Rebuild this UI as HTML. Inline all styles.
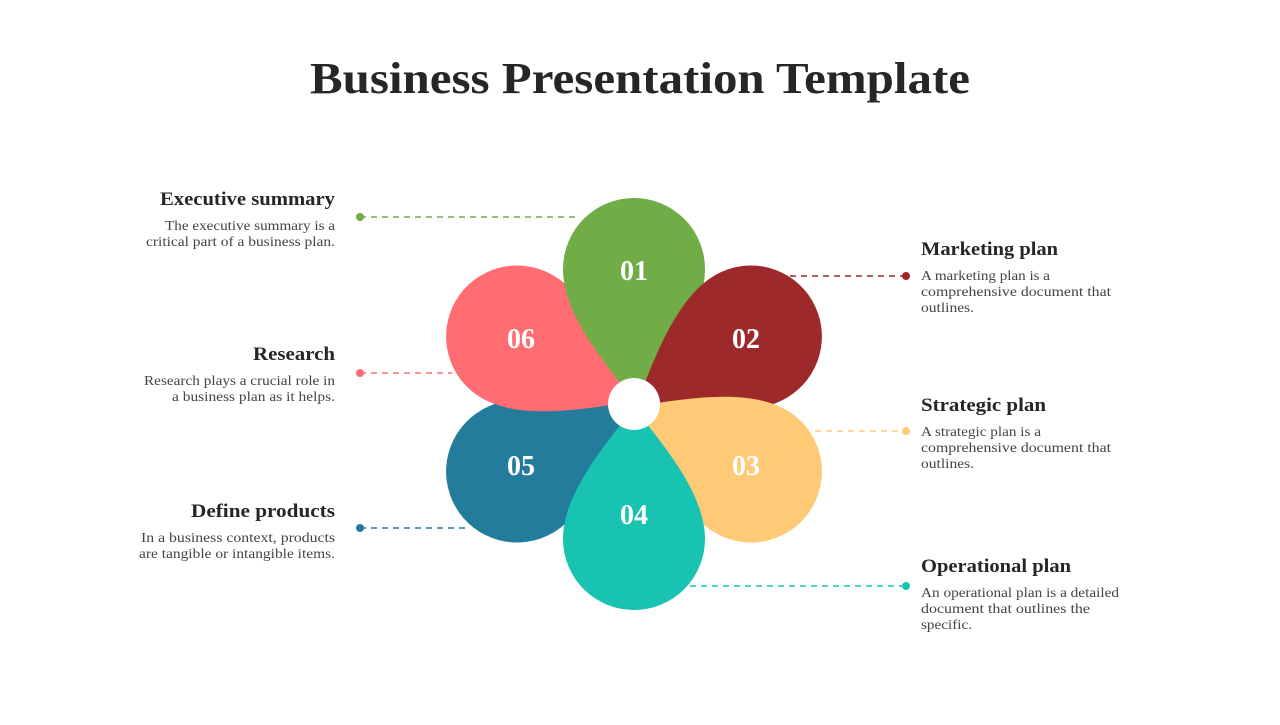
<!DOCTYPE html>
<html><head><meta charset="utf-8"><style>
html,body{margin:0;padding:0;background:#fff;}
body{width:1280px;height:720px;overflow:hidden;}
</style></head><body>
<svg width="1280" height="720" viewBox="0 0 1280 720" xmlns="http://www.w3.org/2000/svg" font-family="'Liberation Serif', serif">
<defs>
<path id="p" d="M0,-4 C34,-46 71,-92 71,-135 A71,71 0 1 0 -71,-135 C-71,-92 -34,-46 0,-4 Z"/>
</defs>
<text x="310" y="93" textLength="660" lengthAdjust="spacingAndGlyphs" font-size="44" font-weight="bold" fill="#262626">Business Presentation Template</text>

<g stroke-width="1.6" stroke-dasharray="6,5" fill="none">
<line x1="360" y1="217" x2="578" y2="217" stroke="#70ad47"/>
<line x1="360" y1="373" x2="452" y2="373" stroke="#ff6d73"/>
<line x1="360" y1="528" x2="470" y2="528" stroke="#237c9b"/>
<line x1="790" y1="276" x2="906" y2="276" stroke="#9e292b"/>
<line x1="815" y1="431" x2="906" y2="431" stroke="#ffca75"/>
<line x1="690" y1="586" x2="906" y2="586" stroke="#19c3b1"/>
</g>
<circle cx="360" cy="217" r="4" fill="#70ad47"/>
<circle cx="360" cy="373" r="4" fill="#ff6d73"/>
<circle cx="360" cy="528" r="4" fill="#237c9b"/>
<circle cx="906" cy="276" r="4" fill="#9e292b"/>
<circle cx="906" cy="431" r="4" fill="#ffca75"/>
<circle cx="906" cy="586" r="4" fill="#19c3b1"/>

<g transform="translate(634,404)">
<use href="#p" transform="rotate(240)" fill="#237c9b"/>
<use href="#p" transform="rotate(300)" fill="#ff6d73"/>
<use href="#p" transform="rotate(0)" fill="#70ad47"/>
<use href="#p" transform="rotate(60)" fill="#9e292b"/>
<use href="#p" transform="rotate(120)" fill="#ffca75"/>
<use href="#p" transform="rotate(180)" fill="#19c3b1"/>
<circle r="26" fill="#fff"/>
</g>
<g font-size="28" font-weight="bold" fill="#fff" text-anchor="middle">
<text x="634" y="280">01</text>
<text x="746" y="348">02</text>
<text x="746" y="475">03</text>
<text x="634" y="524">04</text>
<text x="521" y="475">05</text>
<text x="521" y="348">06</text>
</g>

<g font-size="19" font-weight="bold" fill="#262626">
<text x="160" y="205" textLength="175" lengthAdjust="spacingAndGlyphs">Executive summary</text>
<text x="253" y="360" textLength="82" lengthAdjust="spacingAndGlyphs">Research</text>
<text x="191" y="517" textLength="144" lengthAdjust="spacingAndGlyphs">Define products</text>
<text x="921" y="255" textLength="137" lengthAdjust="spacingAndGlyphs">Marketing plan</text>
<text x="921" y="411" textLength="125" lengthAdjust="spacingAndGlyphs">Strategic plan</text>
<text x="921" y="572" textLength="150" lengthAdjust="spacingAndGlyphs">Operational plan</text>
</g>
<g font-size="13.5" fill="#444">
<text x="165" y="230" textLength="170" lengthAdjust="spacingAndGlyphs">The executive summary is a</text>
<text x="146" y="246" textLength="189" lengthAdjust="spacingAndGlyphs">critical part of a business plan.</text>
<text x="144" y="385" textLength="191" lengthAdjust="spacingAndGlyphs">Research plays a crucial role in</text>
<text x="172" y="401" textLength="163" lengthAdjust="spacingAndGlyphs">a business plan as it helps.</text>
<text x="141" y="542" textLength="194" lengthAdjust="spacingAndGlyphs">In a business context, products</text>
<text x="139" y="558" textLength="196" lengthAdjust="spacingAndGlyphs">are tangible or intangible items.</text>
<text x="921" y="280" textLength="129" lengthAdjust="spacingAndGlyphs">A marketing plan is a</text>
<text x="921" y="296" textLength="190" lengthAdjust="spacingAndGlyphs">comprehensive document that</text>
<text x="921" y="312" textLength="53" lengthAdjust="spacingAndGlyphs">outlines.</text>
<text x="921" y="436" textLength="120" lengthAdjust="spacingAndGlyphs">A strategic plan is a</text>
<text x="921" y="452" textLength="190" lengthAdjust="spacingAndGlyphs">comprehensive document that</text>
<text x="921" y="468" textLength="53" lengthAdjust="spacingAndGlyphs">outlines.</text>
<text x="921" y="597" textLength="198" lengthAdjust="spacingAndGlyphs">An operational plan is a detailed</text>
<text x="921" y="613" textLength="169" lengthAdjust="spacingAndGlyphs">document that outlines the</text>
<text x="921" y="629" textLength="51" lengthAdjust="spacingAndGlyphs">specific.</text>
</g>
</svg>
</body></html>
